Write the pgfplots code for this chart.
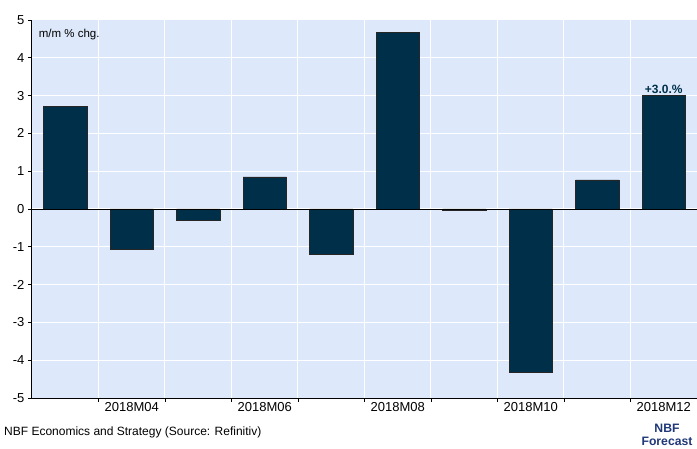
\documentclass[border=0pt]{standalone}
\usepackage{pgfplots}
\pgfplotsset{compat=1.18}
\usepackage{fontspec}
\setmainfont{Liberation Sans}
\definecolor{bg}{RGB}{221,233,251}
\definecolor{barc}{RGB}{0,47,74}
\definecolor{fcst}{RGB}{31,56,120}
\begin{document}
\begin{tikzpicture}[x=1pt,y=1pt]
\useasboundingbox (0,0) rectangle (697,448);
\begin{axis}[
  at={(32pt,50pt)}, anchor=south west,
  scale only axis, width=665pt, height=378pt,
  xmin=-0.5, xmax=9.5, ymin=-5, ymax=5,
  axis x line=bottom, axis y line=left,
  axis line style={-, line width=1pt, black},
  axis background/.style={fill=bg},
  xtick={0.5,1.5,...,8.5}, xticklabels={},
  extra x ticks={1,3,5,7,9},
  extra x tick labels={2018M04,2018M06,2018M08,2018M10,2018M12},
  extra x tick style={major tick length=0pt, grid=none},
  ytick={-5,-4,...,5},
  tick align=outside, major tick length=4pt,
  tick style={black, line width=0.8pt},
  xmajorgrids, ymajorgrids,
  grid style={white, line width=1pt},
  /pgf/number format/assume math mode=true,
  ticklabel style={font=\fontsize{13}{15}\selectfont},
  xticklabel style={yshift=-1pt},
  clip=false,
]
\addplot[ybar, bar width=0.65, fill=barc, draw=black!85, line width=0.6pt]
  coordinates {(0,2.72) (1,-1.06) (2,-0.31) (3,0.85) (4,-1.19) (5,4.68) (6,-0.03) (7,-4.33) (8,0.77) (9,3.0)};
\draw[black, line width=0.8pt] (axis cs:-0.5,0) -- (axis cs:9.5,0);
\node[anchor=south, font=\bfseries\fontsize{12}{14}\selectfont, text=barc, inner sep=2pt] at (axis cs:9,3.0) {+3.0.\%};
\node[anchor=north west, font=\fontsize{11.5}{13}\selectfont, inner sep=0pt] at (axis cs:-0.4,4.75) {m/m \% chg.};
\end{axis}
\node[anchor=base west, font=\fontsize{12}{14}\selectfont, inner sep=0pt] at (4,13) {NBF Economics and Strategy (Source: Refinitiv)};
\node[anchor=base, font=\bfseries\fontsize{12.2}{14}\selectfont, text=fcst, inner sep=0pt] at (667,16) {NBF};
\node[anchor=base, font=\bfseries\fontsize{12.2}{14}\selectfont, text=fcst, inner sep=0pt] at (667,2.5) {Forecast};
\end{tikzpicture}
\end{document}
